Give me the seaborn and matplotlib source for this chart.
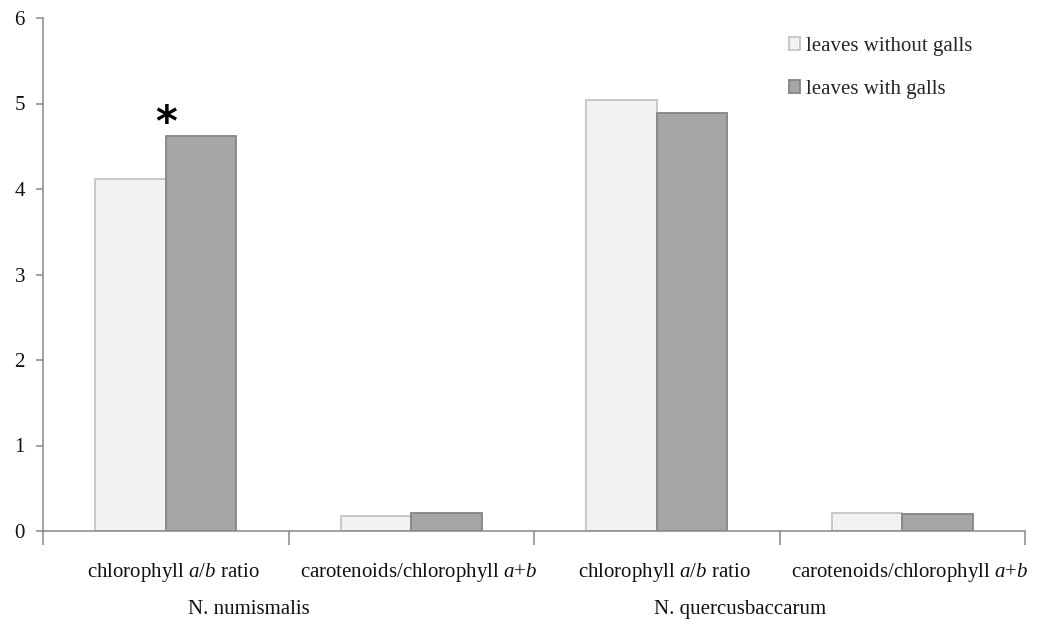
import matplotlib
matplotlib.use("Agg")
import matplotlib.pyplot as plt
import matplotlib.transforms as mtransforms
from matplotlib.patches import Patch
import pandas as pd
import seaborn as sns

# Data: pigment ratios in leaves with and without galls for two gall species
species = ["N. numismalis", "N. quercusbaccarum"]
parameters = ["chlorophyll $a/b$ ratio", "carotenoids/chlorophyll $a$+$b$"]
treatments = ["leaves without galls", "leaves with galls"]
without_galls = [4.12, 0.18, 5.04, 0.21]
with_galls = [4.62, 0.21, 4.89, 0.20]
y_ticks = [0, 1, 2, 3, 4, 5, 6]

colors = {"leaves without galls": "#F2F2F2", "leaves with galls": "#A6A6A6"}
edges = {"leaves without galls": "#C4C4C4", "leaves with galls": "#858585"}
axis_grey = "#878787"

# Long-form table: one row per bar
cat_keys = []
cat_labels = []
for sp in species:
    for par in parameters:
        cat_keys.append(f"{sp}|{par}")
        cat_labels.append(par)
rows = []
for ci, key in enumerate(cat_keys):
    rows.append({"category": key, "treatment": treatments[0], "value": without_galls[ci]})
    rows.append({"category": key, "treatment": treatments[1], "value": with_galls[ci]})
df = pd.DataFrame(rows)

sns.set_theme(style="white")
plt.rcParams["font.family"] = ["Liberation Serif", "DejaVu Sans"]
plt.rcParams["mathtext.fontset"] = "custom"
plt.rcParams["mathtext.rm"] = "Liberation Serif"
plt.rcParams["mathtext.it"] = "Liberation Serif:italic"

fs = 15
fig = plt.figure(figsize=(10.4, 6.19), dpi=100)
ax = fig.add_axes([43 / 1040, 88 / 619, 982 / 1040, 513 / 619])

sns.barplot(data=df, x="category", y="value", hue="treatment", order=cat_keys,
            hue_order=treatments, palette=colors, width=0.574, ax=ax,
            errorbar=None, legend=False, saturation=1)

for cont, tr in zip(ax.containers, treatments):
    for bar in cont:
        bar.set_edgecolor(edges[tr])
        bar.set_linewidth(1.3)

ax.set_xlim(-0.5, 3.5)
ax.set_ylim(0, 6)
ax.set_yticks(y_ticks)
ax.set_yticklabels([str(t) for t in y_ticks], fontsize=fs)
ax.set_xticks(range(len(cat_keys)))
ax.set_xticklabels(cat_labels, fontsize=fs)
ax.set_xticks([i - 0.5 for i in range(len(cat_keys) + 1)], minor=True)
ax.set_xlabel("")
ax.set_ylabel("")

for side in ["top", "right"]:
    ax.spines[side].set_visible(False)
for side in ["left", "bottom"]:
    ax.spines[side].set_color(axis_grey)
    ax.spines[side].set_linewidth(1.1)

ax.tick_params(axis="y", which="major", direction="out", length=5, width=1.1,
               color=axis_grey, pad=8, labelcolor="#111111", left=True)
ax.tick_params(axis="x", which="major", length=0, pad=21.5, labelcolor="#111111")
ax.tick_params(axis="x", which="minor", direction="out", length=10, width=1.1,
               color=axis_grey, bottom=True)

# nudge the category labels slightly right
shift = mtransforms.ScaledTranslation(8 / 100, 0, fig.dpi_scale_trans)
for lbl in ax.get_xticklabels():
    lbl.set_transform(lbl.get_transform() + shift)

# species labels under each pair of categories
blend = mtransforms.blended_transform_factory(ax.transData, fig.transFigure)
for si, sp in enumerate(species):
    ax.text(si * 2 + 0.34, 5 / 619, sp, transform=blend, ha="center",
            va="baseline", fontsize=fs, color="#111111")

# significance marker
ax.text(0, with_galls[0], "*", ha="center", va="baseline", fontsize=30,
        fontweight="bold", family="DejaVu Sans", color="black")

handles = [Patch(facecolor=colors[t], edgecolor=edges[t], linewidth=1.3) for t in treatments]
ax.legend(handles, treatments, loc="upper left", bbox_to_anchor=(789 / 1040, 1 - 37 / 619),
          bbox_transform=fig.transFigure, frameon=False, fontsize=fs,
          handlelength=0.55, handleheight=0.55, handletextpad=0.25,
          labelspacing=1.15, borderpad=0, borderaxespad=0)

fig.savefig("out.png", dpi=100, facecolor="white")
